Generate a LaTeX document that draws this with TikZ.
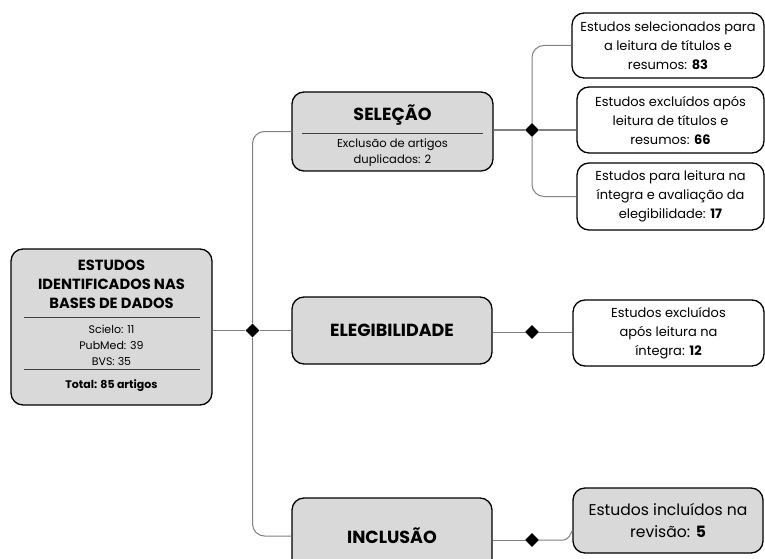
\documentclass[tikz,border=0pt]{standalone}
\usepackage{fontspec}
\setmainfont{Poppins}
\usetikzlibrary{shapes.geometric,calc}
\definecolor{boxgray}{HTML}{D9D9D9}
\definecolor{linegray}{HTML}{808080}
\tikzset{
  stage/.style={draw=black,line width=1.3pt,rounded corners=12pt,fill=boxgray,inner sep=0pt,align=center},
  result/.style={draw=black,line width=1.3pt,rounded corners=12pt,fill=white,inner sep=0pt,align=center},
  knot/.style={diamond,fill=black,inner sep=0pt,minimum size=14pt},
  link/.style={draw=linegray,line width=1pt,rounded corners=12pt},
  sepline/.style={draw=black!75,line width=0.8pt},
  headfont/.style={font=\bfseries\fontsize{17.5}{19}\selectfont},
  notefont/.style={font=\fontsize{11.5}{16}\selectfont},
  resfont/.style={font=\fontsize{13}{19}\selectfont}
}
\begin{document}
\begin{tikzpicture}[x=1pt,y=-1pt]
\clip (0,0) rectangle (765,559);
% base de dados
\node[stage,minimum width=201pt,minimum height=156pt] (base) at (111.5,327) {};
\node[font=\bfseries\fontsize{14.7}{19}\selectfont,align=center] (basetitle) at (111.5,284) {ESTUDOS\\IDENTIFICADOS NAS\\BASES DE DADOS};
\draw[sepline] (24,317) -- (200,317);
\node[font=\fontsize{11}{16}\selectfont,align=center] (bases) at (111.5,345) {Scielo: 11\\PubMed: 39\\BVS: 35};
\draw[sepline] (24,369) -- (200,369);
\node[font=\bfseries\fontsize{11}{14}\selectfont] (total) at (111.5,386) {Total: 85 artigos};
% etapas
\node[stage,minimum width=201pt,minimum height=79pt] (sel) at (392.5,131.5) {};
\node[headfont] (seltitle) at (392.5,115) {SELEÇÃO};
\draw[sepline] (302,133) -- (483,133);
\node[notefont,align=center] (selnote) at (392.5,153) {Exclusão de artigos\\duplicados: 2};
\node[stage,headfont,minimum width=200pt,minimum height=67pt] (ele) at (392,330.5) {ELEGIBILIDADE};
\node[stage,headfont,minimum width=200pt,minimum height=76pt] (inc) at (392,536) {INCLUSÃO};
% resultados
\node[result,resfont,minimum width=192pt,minimum height=65pt] (r1) at (668,45.5) {Estudos selecionados para\\a leitura de títulos e\\resumos: \textbf{83}};
\node[result,resfont,minimum width=187pt,minimum height=66pt] (r2) at (670.5,120) {Estudos excluídos após\\leitura de títulos e\\resumos: \textbf{66}};
\node[result,resfont,minimum width=187pt,minimum height=67pt] (r3) at (670.5,196.5) {Estudos para leitura na\\íntegra e avaliação da\\elegibilidade: \textbf{17}};
\node[result,resfont,minimum width=191pt,minimum height=66pt] (r4) at (668.5,333) {Estudos excluídos\\após leitura na\\íntegra: \textbf{12}};
\node[stage,minimum width=190pt,minimum height=65pt,font=\fontsize{15.6}{22}\selectfont] (r5) at (668,520.5) {Estudos incluídos na\\revisão: \textbf{5}};
% ligacoes
\node[knot] (k0) at (252.5,330.5) {};
\node[knot] (k1) at (532,130) {};
\node[knot] (k2) at (532,332) {};
\node[knot] (k3) at (532,540) {};
\draw[link] (base.east|-k0) -- (k0.west);
\draw[link] (k0.east) -- (ele.west|-k0);
\draw[link] (k0.north) |- (sel.west);
\draw[link] (k0.south) |- (inc.west);
\draw[link] (sel.east|-k1) -- (k1.west);
\draw[link] (k1.east) -- (r2.west|-k1);
\draw[link] (k1.north) |- (r1.west);
\draw[link] (k1.south) |- (r3.west);
\draw[link] (ele.east|-k2) -- (k2.west);
\draw[link] (k2.east) -- (r4.west|-k2);
\draw[link] (inc.east|-k3) -- (k3.west);
\draw[link,rounded corners=4pt] (k3.east) -- ($(r5.west|-k3)+(-5,0)$) -- ([yshift=-10pt]r5.west);
\end{tikzpicture}
\end{document}
